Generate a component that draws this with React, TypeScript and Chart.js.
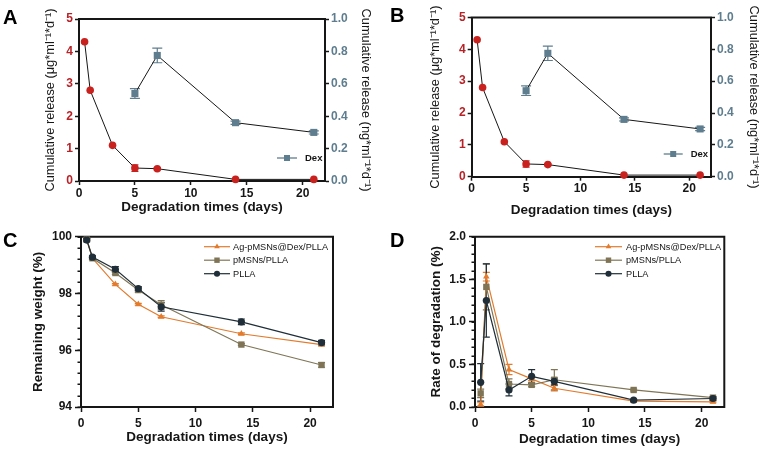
import React, { useEffect, useRef } from 'react';
import { Chart, registerables } from 'chart.js';
import { drawPoint } from 'chart.js/helpers';

Chart.register(...registerables);

// ---------------- data ----------------
const days = [0.5, 1, 3, 5, 7, 14, 21];
const dexDays = [5, 7, 14, 21];
const dayTicks = [0, 5, 10, 15, 20];

const agRelease = [4.3, 2.8, 1.1, 0.4, 0.38, 0.05, 0.05];
const agReleaseErr = [0, 0, 0, 0.1, 0.03, 0, 0];
const dexRelease = [0.54, 0.775, 0.36, 0.3];
const dexReleaseErr = [0.03, 0.045, 0.01, 0.01];
const agReleaseTicks = [0, 1, 2, 3, 4, 5];
const dexReleaseTicks = [0, 0.2, 0.4, 0.6, 0.8, 1.0];
const releaseLabels = ['Ag', 'Dex'];

const weightAgPMSNsDex = [99.9, 99.24, 98.32, 97.62, 97.18, 96.58, 96.2];
const weightAgPMSNsDexErr = [0.03, 0.03, 0.03, 0.03, 0.03, 0.03, 0.05];
const weightPMSNs = [99.9, 99.24, 98.72, 98.12, 97.6, 96.2, 95.48];
const weightPMSNsErr = [0.03, 0.05, 0.05, 0.08, 0.15, 0.03, 0.08];
const weightPLLA = [99.88, 99.28, 98.85, 98.17, 97.53, 97.0, 96.27];
const weightPLLAErr = [0.05, 0.05, 0.1, 0.07, 0.15, 0.1, 0.08];
const weightTicks = [94, 96, 98, 100];

const rateAgPMSNsDex = [0.03, 1.53, 0.44, 0.33, 0.22, 0.07, 0.06];
const rateAgPMSNsDexErr = [0.02, 0.05, 0.06, 0.02, 0.03, 0.01, 0.01];
const ratePMSNs = [0.16, 1.41, 0.27, 0.26, 0.32, 0.2, 0.11];
const ratePMSNsErr = [0.05, 0.27, 0.06, 0.02, 0.12, 0.01, 0.01];
const ratePLLA = [0.29, 1.25, 0.2, 0.36, 0.3, 0.08, 0.1];
const ratePLLAErr = [0.22, 0.43, 0.07, 0.08, 0.04, 0.01, 0.02];
const rateTicks = [0, 0.5, 1.0, 1.5, 2.0];

const seriesLabels = ['Ag-pMSNs@Dex/PLLA', 'pMSNs/PLLA', 'PLLA'];

const xTitle = 'Degradation times (days)';
const agAxisTitle = 'Cumulative release (μg*ml⁻¹*d⁻¹)';
const dexAxisTitle = 'Cumulative release (ng*ml⁻¹*d⁻¹)';
const weightTitle = 'Remaining weight (%)';
const rateTitle = 'Rate of degradation (%)';
const panelLetters = ['A', 'B', 'C', 'D'];

// ---------------- style ----------------
const FONT = "'Liberation Sans', Arial, Helvetica, sans-serif";
const INK = '#161616';
const RED = '#c8211e';
const RED_TICK = '#b82227';
const SLATE = '#5e7d8e';
const ORANGE = '#e27b2c';
const OLIVE = '#7f7556';
const NAVY = '#1f2e38';

Chart.defaults.font.family = FONT;

// ---------------- plugins ----------------
const errorBarsPlugin = {
  id: 'errorBars',
  beforeDatasetsDraw(chart: any) {
    const { ctx } = chart;
    chart.data.datasets.forEach((ds: any, i: number) => {
      if (!ds.errors) return;
      const meta = chart.getDatasetMeta(i);
      const xs = chart.scales[meta.xAxisID];
      const ys = chart.scales[meta.yAxisID];
      ctx.save();
      ctx.strokeStyle = ds.errorColor || ds.borderColor;
      ctx.lineWidth = 1.2;
      const cap = ds.capHalf ?? 3.5;
      ds.data.forEach((p: any, j: number) => {
        const e = ds.errors[j];
        if (!e) return;
        const x = xs.getPixelForValue(p.x);
        const y1 = ys.getPixelForValue(p.y - e);
        const y2 = ys.getPixelForValue(p.y + e);
        ctx.beginPath();
        ctx.moveTo(x, y1);
        ctx.lineTo(x, y2);
        ctx.moveTo(x - cap, y1);
        ctx.lineTo(x + cap, y1);
        ctx.moveTo(x - cap, y2);
        ctx.lineTo(x + cap, y2);
        ctx.stroke();
      });
      ctx.restore();
    });
  },
};

const framePlugin = {
  id: 'frame',
  beforeDatasetsDraw(chart: any, _a: any, opts: any) {
    const { ctx, chartArea } = chart;
    const { left, right, top, bottom } = chartArea;
    ctx.save();
    ctx.strokeStyle = INK;
    ctx.lineWidth = 2;
    ctx.beginPath();
    ctx.moveTo(left - 1, top);
    ctx.lineTo(right + 1, top);
    if (opts && opts.right) {
      ctx.moveTo(right, top);
      ctx.lineTo(right, bottom + 1);
    }
    ctx.stroke();
    ctx.restore();
  },
};

const minorTicksPlugin = {
  id: 'minorTicks',
  afterDraw(chart: any, _a: any, opts: any) {
    if (!opts || !opts.step) return;
    const scale = chart.scales[opts.scaleId || 'y'];
    const { ctx } = chart;
    const n = Math.round((scale.max - scale.min) / opts.step);
    const x0 = chart.chartArea.left;
    ctx.save();
    ctx.strokeStyle = INK;
    ctx.lineWidth = 1.5;
    ctx.beginPath();
    for (let k = 0; k <= n; k++) {
      const v = scale.min + k * opts.step;
      const y = Math.round(scale.getPixelForValue(v)) + 0.25;
      ctx.moveTo(x0, y);
      ctx.lineTo(x0 - opts.length, y);
    }
    ctx.stroke();
    ctx.restore();
  },
};

const inlineLegendPlugin = {
  id: 'inlineLegend',
  afterDatasetsDraw(chart: any, _a: any, opts: any) {
    if (!opts || !opts.items) return;
    const { ctx, chartArea } = chart;
    opts.items.forEach((item: any, k: number) => {
      const ds = chart.data.datasets[item.datasetIndex];
      const x0 = chartArea.left + opts.dx;
      const y = chartArea.top + opts.dy + k * opts.rowHeight;
      ctx.save();
      ctx.strokeStyle = item.lineColor || ds.borderColor;
      ctx.lineWidth = opts.lineWidth || 1.2;
      ctx.beginPath();
      ctx.moveTo(x0, y);
      ctx.lineTo(x0 + opts.lineLength, y);
      ctx.stroke();
      ctx.fillStyle = ds.pointBackgroundColor;
      ctx.strokeStyle = ds.pointBorderColor;
      drawPoint(ctx, { pointStyle: ds.pointStyle, radius: (ds.pointRadius || 3) * (opts.markerScale || 1), rotation: 0, borderWidth: 0 } as any, x0 + opts.lineLength / 2, y);
      ctx.fillStyle = opts.color || INK;
      ctx.font = opts.font;
      ctx.textAlign = 'left';
      ctx.textBaseline = 'middle';
      ctx.fillText(ds.label, x0 + opts.textOffset, y + 0.5);
      ctx.restore();
    });
  },
};

// ---------------- builders ----------------
const tickFont = { family: FONT, size: 12, weight: 'bold' as const };

function xAxis(height: number, titleFromBottom: number, labelPad: number, tickLen: number) {
  const size = 13.5;
  return {
    type: 'linear' as const,
    min: 0,
    max: 22,
    afterFit: (s: any) => {
      s.height = height;
    },
    afterBuildTicks: (s: any) => {
      s.ticks = dayTicks.map((v) => ({ value: v }));
    },
    ticks: { font: tickFont, color: INK, padding: labelPad, maxRotation: 0, autoSkip: false },
    grid: { display: true, drawOnChartArea: false, drawTicks: true, tickLength: tickLen, tickWidth: 1.5, tickColor: INK },
    border: { display: true, color: INK, width: 2 },
    title: {
      display: true,
      text: xTitle,
      color: INK,
      font: { family: FONT, size, weight: 'bold' as const, lineHeight: 1 },
      padding: { top: 0, bottom: titleFromBottom - size / 2 },
    },
  };
}

function yAxis(o: any) {
  return {
    type: 'linear' as const,
    position: o.position,
    min: o.min,
    max: o.max,
    afterFit: (s: any) => {
      s.width = o.width;
    },
    afterBuildTicks: (s: any) => {
      s.ticks = o.ticks.map((v: number) => ({ value: v }));
    },
    ticks: {
      font: tickFont,
      color: o.tickColor,
      padding: o.labelPad,
      autoSkip: false,
      callback: (v: any) => (o.decimals ? Number(v).toFixed(o.decimals) : String(v)),
    },
    grid: { display: true, drawOnChartArea: false, drawTicks: true, tickLength: o.tickLen, tickWidth: 1.5, tickColor: INK },
    border: { display: true, color: INK, width: 2 },
    title: {
      display: true,
      text: o.title,
      color: INK,
      font: { family: FONT, size: o.titleSize, weight: o.titleWeight, lineHeight: 1 },
      padding: { top: o.titleCenter - o.titleSize / 2, bottom: 0 },
    },
  };
}

function releaseConfig(L: any): any {
  return {
    type: 'line',
    data: {
      datasets: [
        {
          label: releaseLabels[0],
          data: days.map((d, i) => ({ x: d, y: agRelease[i] })),
          errors: agReleaseErr,
          errorColor: RED,
          capHalf: 3.5,
          yAxisID: 'y',
          borderColor: INK,
          borderWidth: 1,
          pointStyle: 'circle',
          pointRadius: 3.8,
          pointBackgroundColor: RED,
          pointBorderColor: RED,
          pointBorderWidth: 0,
          tension: 0,
          clip: false,
        },
        {
          label: releaseLabels[1],
          data: dexDays.map((d, i) => ({ x: d, y: dexRelease[i] })),
          errors: dexReleaseErr,
          errorColor: SLATE,
          capHalf: 5,
          yAxisID: 'y1',
          borderColor: INK,
          borderWidth: 1,
          pointStyle: 'rect',
          pointRadius: 5,
          pointBackgroundColor: SLATE,
          pointBorderColor: SLATE,
          pointBorderWidth: 0,
          tension: 0,
          clip: false,
        },
      ],
    },
    options: {
      responsive: false,
      animation: false,
      events: [],
      layout: { padding: { top: L.top, left: 0, right: 0, bottom: 0 } },
      plugins: {
        legend: { display: false },
        tooltip: { enabled: false },
        frame: { right: false },
        inlineLegend: {
          items: [{ datasetIndex: 1, lineColor: SLATE }],
          dx: L.legendDx,
          dy: L.legendDy,
          rowHeight: 13,
          lineLength: L.legendLine,
          textOffset: L.legendText,
          lineWidth: 1.3,
          markerScale: 0.85,
          font: `bold 9.5px ${FONT}`,
        },
      },
      scales: {
        x: xAxis(L.xH, L.xTitle, 1, 4),
        y: yAxis({
          position: 'left', min: 0, max: 5, width: L.yW, ticks: agReleaseTicks, tickColor: RED_TICK,
          labelPad: 2, tickLen: 4, title: agAxisTitle, titleSize: 12.8, titleWeight: 'normal', titleCenter: L.yTitle,
        }),
        y1: yAxis({
          position: 'right', min: 0, max: 1, width: L.y1W, ticks: dexReleaseTicks, tickColor: SLATE, decimals: 1,
          labelPad: 2, tickLen: 4, title: dexAxisTitle, titleSize: 12.8, titleWeight: 'normal', titleCenter: L.y1Title,
        }),
      },
    },
    plugins: [errorBarsPlugin, framePlugin, inlineLegendPlugin],
  };
}

function groupConfig(L: any, values: number[][], errors: number[][], y: any): any {
  const colors = [ORANGE, OLIVE, NAVY];
  const styles = ['triangle', 'rect', 'circle'];
  const radii = [3.8, 4.5, 3.6];
  return {
    type: 'line',
    data: {
      datasets: values.map((vals, s) => ({
        label: seriesLabels[s],
        data: days.map((d, i) => ({ x: d, y: vals[i] })),
        errors: errors[s],
        errorColor: colors[s],
        capHalf: 3.5,
        borderColor: colors[s],
        borderWidth: 1.2,
        pointStyle: styles[s],
        pointRadius: radii[s],
        pointBackgroundColor: colors[s],
        pointBorderColor: colors[s],
        pointBorderWidth: 0,
        tension: 0,
        clip: false,
        order: 3 - s,
      })),
    },
    options: {
      responsive: false,
      animation: false,
      events: [],
      layout: { padding: { top: L.top, left: 0, right: L.right, bottom: 0 } },
      plugins: {
        legend: { display: false },
        tooltip: { enabled: false },
        frame: { right: true },
        minorTicks: { scaleId: 'y', step: y.minorStep, length: 3.5 },
        inlineLegend: {
          items: [{ datasetIndex: 0 }, { datasetIndex: 1 }, { datasetIndex: 2 }],
          dx: L.legendDx,
          dy: 10,
          rowHeight: 13.5,
          lineLength: L.legendLine,
          textOffset: L.legendText,
          lineWidth: 1.2,
          markerScale: 0.85,
          font: `9.2px ${FONT}`,
        },
      },
      scales: {
        x: xAxis(L.xH, L.xTitle, 4, 5),
        y: yAxis({
          position: 'left', min: y.min, max: y.max, width: L.yW, ticks: y.ticks, tickColor: INK, decimals: y.decimals,
          labelPad: 3, tickLen: 6, title: y.title, titleSize: 13.5, titleWeight: 'bold', titleCenter: L.yTitle,
        }),
      },
    },
    plugins: [errorBarsPlugin, framePlugin, minorTicksPlugin, inlineLegendPlugin],
  };
}

// ---------------- layout specs ----------------
const W = 381;
const H = 226;
const layoutA = { top: 19, yW: 79, y1W: 56, xH: 45, yTitle: 50, y1Title: 15, xTitle: 19, legendDx: 198, legendDy: 139, legendLine: 20, legendText: 28 };
const layoutB = { top: 17.5, yW: 90.7, y1W: 51, xH: 49.3, yTitle: 54.5, y1Title: 8, xTitle: 15.3, legendDx: 192, legendDy: 136.5, legendLine: 19, legendText: 27 };
const layoutC = { top: 10.7, yW: 81, right: 48, xH: 45, yTitle: 38, xTitle: 14.3, legendDx: 123, legendLine: 26, legendText: 29 };
const layoutD = { top: 10.7, yW: 94, right: 37.7, xH: 45, yTitle: 55, xTitle: 13, legendDx: 120, legendLine: 27, legendText: 31 };

function ChartPanel({ make, left, top }: { make: () => any; left: number; top: number }) {
  const ref = useRef<HTMLCanvasElement>(null);
  useEffect(() => {
    const chart = new Chart(ref.current as HTMLCanvasElement, make());
    return () => chart.destroy();
  }, []);
  return (
    <div style={{ position: 'absolute', left, top, width: W, height: H }}>
      <canvas ref={ref} width={W} height={H} style={{ display: 'block', width: W, height: H }} />
    </div>
  );
}

function Letter({ text, left, top }: { text: string; left: number; top: number }) {
  return (
    <div
      style={{
        position: 'absolute',
        left,
        top,
        fontFamily: FONT,
        fontWeight: 'bold',
        fontSize: 20,
        lineHeight: '20px',
        color: '#000',
      }}
    >
      {text}
    </div>
  );
}

export default function App() {
  return (
    <div style={{ position: 'fixed', left: 0, top: 0, width: 762, height: 452, background: '#fff', overflow: 'hidden' }}>
      <ChartPanel make={() => releaseConfig(layoutA)} left={0} top={0} />
      <ChartPanel make={() => releaseConfig(layoutB)} left={381} top={0} />
      <ChartPanel
        make={() =>
          groupConfig(
            layoutC,
            [weightAgPMSNsDex, weightPMSNs, weightPLLA],
            [weightAgPMSNsDexErr, weightPMSNsErr, weightPLLAErr],
            { min: 94, max: 100, ticks: weightTicks, minorStep: 0.4, title: weightTitle, decimals: 0 }
          )
        }
        left={0}
        top={226}
      />
      <ChartPanel
        make={() =>
          groupConfig(
            layoutD,
            [rateAgPMSNsDex, ratePMSNs, ratePLLA],
            [rateAgPMSNsDexErr, ratePMSNsErr, ratePLLAErr],
            { min: 0, max: 2, ticks: rateTicks, minorStep: 0.1, title: rateTitle, decimals: 1 }
          )
        }
        left={381}
        top={226}
      />
      <Letter text={panelLetters[0]} left={3} top={7} />
      <Letter text={panelLetters[1]} left={390} top={5} />
      <Letter text={panelLetters[2]} left={3} top={230} />
      <Letter text={panelLetters[3]} left={390} top={230} />
    </div>
  );
}
